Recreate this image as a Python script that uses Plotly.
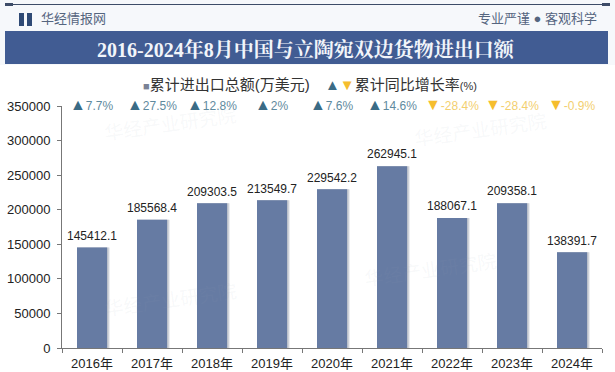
import plotly.graph_objects as go

years = ["2016年","2017年","2018年","2019年","2020年","2021年","2022年","2023年","2024年"]
totals = [145412.1,185568.4,209303.5,213549.7,229542.2,262945.1,188067.1,209358.1,138391.7]
growth = [7.7,27.5,12.8,2,7.6,14.6,-28.4,-28.4,-0.9]
title = "2016-2024年8月中国与立陶宛双边货物进出口额"
series_name = "累计进出口总额(万美元)"
rate_name = "累计同比增长率"
rate_unit = "(%)"

W, H = 615, 372
L, R, T, B = 62, 13, 106, 24
SANS = "Liberation Sans, Noto Sans CJK SC, sans-serif"
SERIF = "Liberation Serif, Noto Serif CJK SC, Noto Sans CJK SC, serif"
def px(x): return (x - L) / (W - L - R)
def py(y): return 1 - (y - T) / (H - T - B)

UP_M, UP_T, DN_M, DN_T = "#3b6b85", "#5f8a9e", "#f5bd2e", "#f3cf70"
def rate_label(v):
    if v >= 0:
        return f'<span style="color:{UP_M};font-size:16px">▲</span><span style="color:{UP_T}">{v:g}%</span>'
    return f'<span style="color:{DN_M};font-size:16px">▼</span><span style="color:{DN_T}">{v:g}%</span>'

fig = go.Figure()
fig.add_bar(x=years, y=totals, width=0.545, offset=-0.25, marker=dict(color="#e4e6ea", line_width=0),
            hoverinfo="skip", showlegend=False)
fig.add_bar(x=years, y=totals, width=0.525, offset=-0.25, marker=dict(color="#b9bfca", line_width=0),
            hoverinfo="skip", showlegend=False)
fig.add_bar(x=years, y=totals, width=0.5, offset=-0.25, name=series_name,
            marker=dict(color="#667ba3", line_width=0))
fig.add_scatter(x=years, y=totals, mode="markers+text", name=series_name, hoverinfo="skip",
                marker=dict(size=6, opacity=0),
                text=[f"{v:.1f}" for v in totals], textposition="top center", cliponaxis=False,
                textfont=dict(size=12, color="#222222", family=SANS))

shapes = [
    dict(type="rect", xref="paper", yref="paper", x0=px(0), x1=px(W), y0=py(65), y1=py(0),
         fillcolor="#f6f8fb", line_width=0, layer="below"),
    dict(type="rect", xref="paper", yref="paper", x0=px(5), x1=px(608), y0=py(64), y1=py(31),
         fillcolor="#415c93", line_width=0, layer="below"),
    dict(type="line", xref="paper", yref="paper", x0=px(5), x1=px(610), y0=py(4.5), y1=py(4.5),
         line=dict(color="#3d4c68", width=1)),
    dict(type="line", xref="paper", yref="paper", x0=px(5), x1=px(13), y0=py(4.5), y1=py(4.5),
         line=dict(color="#3d4c68", width=3)),
    dict(type="line", xref="paper", yref="paper", x0=px(602), x1=px(610), y0=py(4.5), y1=py(4.5),
         line=dict(color="#3d4c68", width=3)),
    dict(type="rect", xref="paper", yref="paper", x0=px(19), x1=px(24), y0=py(26), y1=py(13),
         fillcolor="#2f4a75", line_width=0),
    dict(type="rect", xref="paper", yref="paper", x0=px(27), x1=px(32), y0=py(26), y1=py(13),
         fillcolor="#2f4a75", line_width=0),
]

def note(x, y, text, size, color, family=SANS, anchor="left", **kw):
    return dict(xref="paper", yref="paper", x=px(x), y=py(y), text=text, showarrow=False,
                xanchor=anchor, yanchor="middle", font=dict(size=size, color=color, family=family), **kw)

annotations = [
    note(39, 18.5, "华经情报网", 13, "#55657f"),
    note(599, 18.5, "专业严谨 ● 客观科学", 13, "#55657f", anchor="right"),
    note(306, 50, f"<b>{title}</b>", 20, "#f2f5fa", family=SERIF, anchor="center"),
    note(141, 85, f'<span style="color:#7a8296;font-size:11px">■</span>{series_name}', 15, "#333333"),
    note(323, 84, f'<span style="color:{UP_M};font-size:15px">▲</span><span style="color:{DN_M};font-size:15px">▼</span>{rate_name}'
                  f'<span style="font-size:11px">{rate_unit}</span>', 15, "#333333"),
]
for wx, wy in [(170, 125), (430, 270), (170, 300), (480, 130)]:
    annotations.append(note(wx, wy, "华经产业研究院", 19, "rgba(150,160,180,0.08)", anchor="center", textangle=-8))
for yr, g in zip(years, growth):
    annotations.append(dict(xref="x", yref="paper", x=yr, y=py(104), text=rate_label(g), showarrow=False,
                            xanchor="center", yanchor="middle", font=dict(size=12, family=SANS)))

fig.update_layout(
    width=W, height=H, autosize=False, margin=dict(l=L, r=R, t=T, b=B, pad=0),
    paper_bgcolor="#ffffff", plot_bgcolor="rgba(0,0,0,0)",
    barmode="overlay", showlegend=False, shapes=shapes, annotations=annotations,
    font=dict(family=SANS, color="#222222"),
    xaxis=dict(type="category", range=[-0.5, 8.5], showgrid=False, showline=True, linecolor="#777777", linewidth=1,
               ticks="outside", ticklen=4, tickcolor="#777777", automargin=False, ticklabelstandoff=3,
               tickson="boundaries", tickfont=dict(size=13, color="#222222")),
    yaxis=dict(range=[0, 350000], tick0=0, dtick=50000, showgrid=False, showline=True,
               linecolor="#777777", linewidth=1, ticks="outside", ticklen=4, tickcolor="#777777",
               automargin=False, ticklabelstandoff=4,
               tickfont=dict(size=13, color="#222222"), tickformat="d", zeroline=False),
)
fig.write_html("out.html", config={"displayModeBar": False},
               post_script="document.body.style.margin='0';document.body.style.overflow='hidden';")
